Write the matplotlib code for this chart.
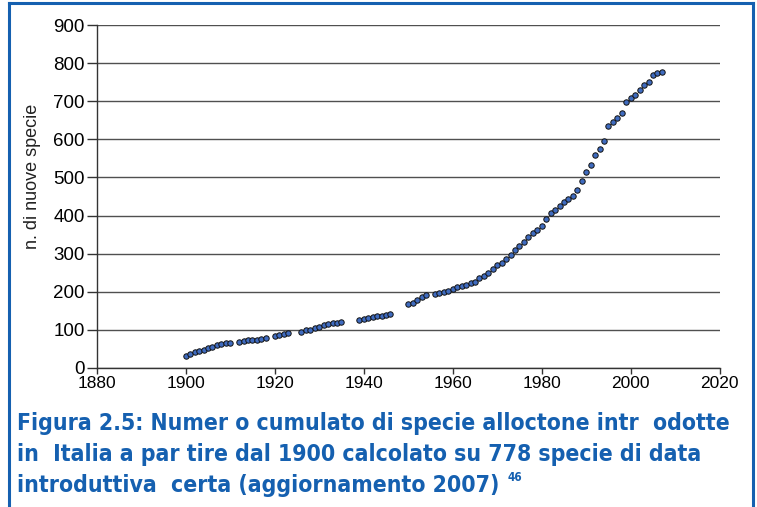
import matplotlib
matplotlib.use('Agg')
import matplotlib.pyplot as plt
from matplotlib import font_manager
from matplotlib.lines import Line2D

# anni con nuove introduzioni e numero cumulato di specie
years = [1900, 1901, 1902, 1903, 1904, 1905, 1906, 1907, 1908, 1909, 1910,
         1912, 1913, 1914, 1915, 1916, 1917, 1918,
         1920, 1921, 1922, 1923,
         1926, 1927, 1928, 1929, 1930, 1931, 1932, 1933, 1934, 1935,
         1939, 1940, 1941, 1942, 1943, 1944, 1945, 1946,
         1950, 1951, 1952, 1953, 1954,
         1956, 1957, 1958, 1959, 1960, 1961, 1962, 1963, 1964, 1965, 1966,
         1967, 1968, 1969, 1970, 1971, 1972, 1973, 1974, 1975, 1976, 1977,
         1978, 1979, 1980, 1981, 1982, 1983, 1984, 1985, 1986, 1987, 1988,
         1989, 1990, 1991, 1992, 1993, 1994, 1995, 1996, 1997, 1998, 1999,
         2000, 2001, 2002, 2003, 2004, 2005, 2006, 2007]
species = [31, 36, 40, 44, 47, 52, 55, 59, 62, 65, 66,
           67, 70, 72, 73, 74, 75, 77,
           83, 86, 89, 92,
           93, 98, 100, 104, 108, 111, 114, 117, 118, 121,
           125, 129, 131, 133, 135, 137, 139, 140,
           167, 169, 178, 186, 190,
           194, 197, 200, 201, 208, 211, 215, 218, 223, 226, 236,
           241, 248, 260, 271, 274, 286, 297, 310, 320, 331, 343,
           353, 362, 372, 391, 406, 415, 426, 436, 444, 452, 466,
           492, 515, 533, 559, 575, 595, 634, 646, 656, 670, 698,
           710, 718, 730, 743, 752, 769, 775, 778]

x_ticks = [1880, 1900, 1920, 1940, 1960, 1980, 2000, 2020]
y_ticks = [0, 100, 200, 300, 400, 500, 600, 700, 800, 900]

caption_lines = [
    "Figura 2.5: Numer o cumulato di specie alloctone intr  odotte",
    "in  Italia a par tire dal 1900 calcolato su 778 specie di data",
    "introduttiva  certa (aggiornamento 2007)",
]
caption_note = "46"

BLUE = '#1560b0'

available = set(font_manager.get_font_names())
axis_font = 'Liberation Sans' if 'Liberation Sans' in available else 'DejaVu Sans'
if 'Liberation Sans Narrow' in available:
    cap_font = dict(family='Liberation Sans Narrow')
else:
    cap_font = dict(family='DejaVu Sans', stretch='condensed')

plt.rcParams['font.family'] = [axis_font, 'DejaVu Sans']

W, H = 757, 507
fig = plt.figure(figsize=(W / 100, H / 100), dpi=100)
ax = fig.add_axes([96.7 / W, 1 - 367.7 / H, (719.7 - 96.7) / W, (367.7 - 25.3) / H])

ax.plot(years, species, linestyle='none', marker='o', markersize=3.9,
        markerfacecolor='#3f6bbf', markeredgecolor='#111111', markeredgewidth=0.7,
        zorder=3)

ax.set_xlim(1880, 2020)
ax.set_ylim(0, 900)
ax.set_xticks(x_ticks)
ax.set_yticks(y_ticks)
ax.yaxis.grid(True, color='#505050', linewidth=1.0)
ax.set_axisbelow(True)
for side in ('top', 'right'):
    ax.spines[side].set_visible(False)
for side in ('left', 'bottom'):
    ax.spines[side].set_color('#333333')
    ax.spines[side].set_linewidth(1.0)
ax.tick_params(axis='y', direction='out', length=7.5, width=1.0, color='#333333',
               labelsize=13.5, pad=1)
ax.tick_params(axis='x', direction='out', length=4, width=1.0, color='#333333',
               labelsize=12.5, pad=2)

fig.text(33 / W, 1 - 176 / H, "n. di nuove specie", rotation=90,
         ha='center', va='center', fontsize=13, color='#222222')

# didascalia
baselines = [430, 461, 492]
texts = []
for line, yb in zip(caption_lines, baselines):
    t = fig.text(17 / W, 1 - yb / H, line, ha='left', va='baseline',
                 fontsize=16.5, fontweight='bold', color=BLUE, **cap_font)
    texts.append(t)

fig.canvas.draw()
bb = texts[-1].get_window_extent()
fig.text((bb.x1 + 8) / W, 1 - 481 / H, caption_note, ha='left', va='baseline',
         fontsize=8.5, fontweight='bold', color=BLUE, **cap_font)

# cornice blu
for xs, ys in [((8.5, 8.5), (0, 504)), ((8.5, 753), (504, 504)), ((753, 753), (504, 0))]:
    fig.add_artist(Line2D([x / W for x in xs], [y / H for y in ys],
                          color=BLUE, linewidth=2.2, transform=fig.transFigure))

fig.savefig('out.png', dpi=100)
